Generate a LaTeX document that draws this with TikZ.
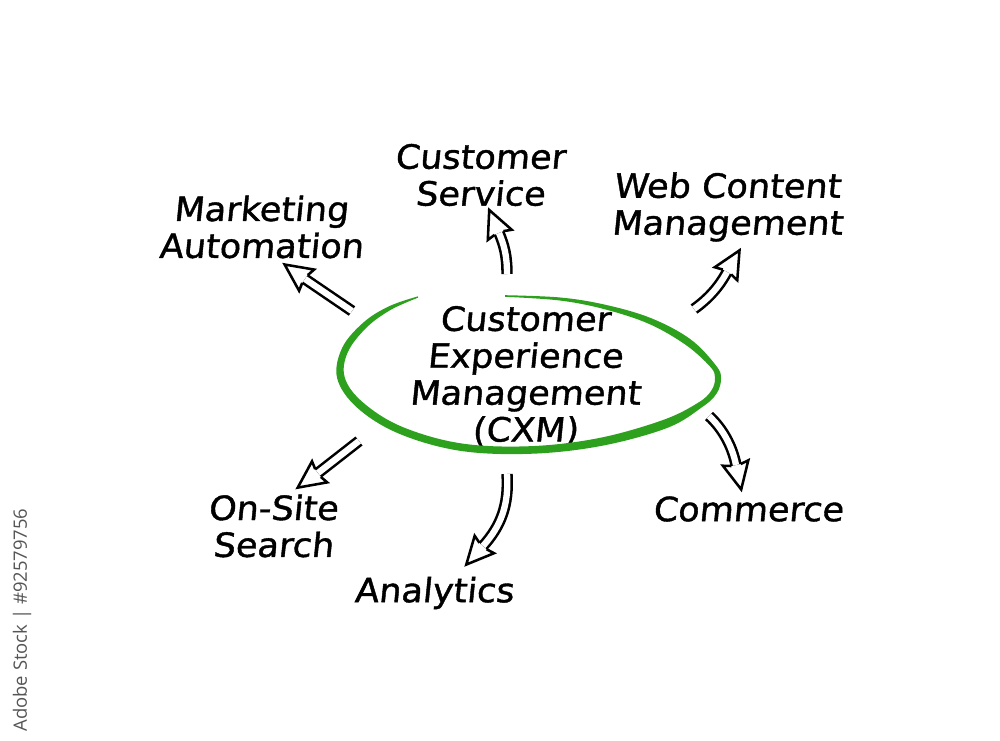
\documentclass[tikz,border=0pt]{standalone}
\usepackage{fontspec}
\newfontfamily\hand[FakeSlant=0.1,FakeStretch=1.05,FakeBold=1.2]{DejaVu Sans}
\newfontfamily\wmfont{Open Sans}
\definecolor{cxmgreen}{RGB}{45,160,30}
\definecolor{wmgray}{RGB}{85,85,85}
\newcommand\openhead[3]{%
  \begin{scope}[shift={(#1)}, rotate=#3]
    \draw[headline] (0,4.8) -- (-2,#2) -- (25,0) -- (-2,-#2) -- (0,-4.8);
  \end{scope}}
\begin{document}
\begin{tikzpicture}[x=0.02cm,y=-0.02cm,
  lbl/.style={font=\hand\fontsize{19}{21}\selectfont, align=center, inner sep=0pt, text=black},
  shaft/.style={draw=black, line width=1.45pt, double=white, double distance=3.6pt},
  headline/.style={draw=black, line width=1.45pt, line join=miter, miter limit=6}
]
\fill[white] (0,0) rectangle (1000,740);
\useasboundingbox (0,0) rectangle (1000,740);

% labels
\node[lbl] (cxm) at (525,376) {Customer\\Experience\\Management\\(CXM)};
\node[lbl] (serv) at (480,175) {Customer\\Service};
\node[lbl] (mark) at (261,227) {Marketing\\Automation};
\node[lbl] (web) at (727,207) {Web Content\\Management};
\node[lbl] (site) at (273,526) {On-Site\\Search};
\node[lbl] (anal) at (434,593) {Analytics};
\node[lbl] (comm) at (748,509) {Commerce};

% green hand-drawn ellipse (tapered stroke)
\fill[cxmgreen] plot[smooth, tension=0.6] coordinates {
  (505,295.2) (560.2,297.5) (605.5,304.8) (651.2,318.2) (690.4,339.2)
  (715.9,365.4) (721,378.4) (716.6,393.5) (702,407.2) (667.0,428.0) (600.8,446.0)
  (530,453.8) (459.4,450.7) (398.6,433.5) (357.3,407.8) (337.2,378.4)
  (342.2,347.8) (363.5,322.4) (389.2,306.2) (417.8,296.4)}
  -- plot[smooth, tension=0.6] coordinates {
  (418.2,297.6) (390.8,309.8) (366.5,327.6) (347.8,352.2) (344.8,377.6)
  (362.7,402.2) (401.4,426.5) (460.6,443.3) (530,446.2) (599.2,438.0)
  (663.0,420.0) (698,402.8) (711.4,390.5) (715,377.6) (710.1,366.6) (685.6,344.8)
  (648.8,323.8) (604.5,309.2) (559.8,300.5) (505,296.8)}
  -- cycle;

% arrow coordinates
\coordinate (a1s) at (352,311); \coordinate (a1e) at (305,279);
\coordinate (a2s) at (507,274); \coordinate (a2e) at (499,233);
\coordinate (a3s) at (694,309); \coordinate (a3e) at (727,272);
\coordinate (a4s) at (709,416); \coordinate (a4e) at (736,465);
\coordinate (a5s) at (507,474); \coordinate (a5e) at (483,546);
\coordinate (a6s) at (359,441); \coordinate (a6e) at (318,473);

% shafts
\draw[shaft] (a1s) -- (a1e);
\draw[shaft] (a2s) .. controls (507,255) and (504,245) .. (a2e);
\draw[shaft] (a3s) .. controls (708,299) and (719,287) .. (a3e);
\draw[shaft] (a4s) .. controls (722,428) and (732,445) .. (a4e);
\draw[shaft] (a5s) .. controls (509,505) and (501,526) .. (a5e);
\draw[shaft] (a6s) -- (a6e);

% open heads
\openhead{a1e}{13}{144.6}
\openhead{a2e}{13}{113}
\openhead{a3e}{13}{60}
\openhead{a4e}{13}{-78}
\openhead{a5e}{13}{228}
\openhead{a6e}{13}{215.8}

% watermark caption
\node[rotate=90, font=\wmfont\fontsize{10.5}{11}\selectfont, text=wmgray, inner sep=0pt] (wm) at (22,620) {Adobe Stock | \#92579756};
\end{tikzpicture}
\end{document}
